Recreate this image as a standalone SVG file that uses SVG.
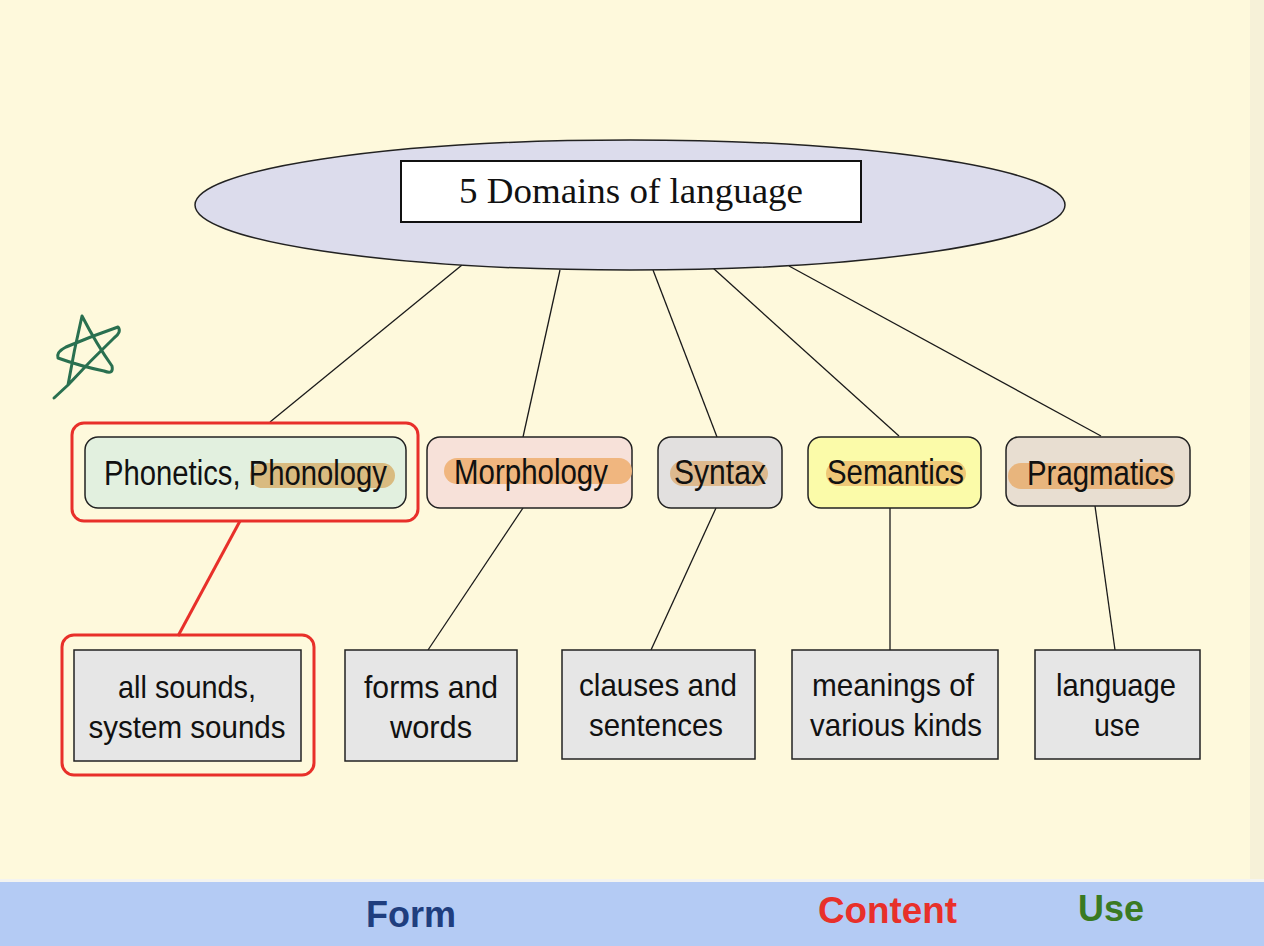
<svg xmlns="http://www.w3.org/2000/svg" width="1264" height="946" viewBox="0 0 1264 946">
<style>
.conn{stroke:#1a1a1a;stroke-width:1.3;fill:none}
.red{stroke:#E8302A;stroke-width:3;fill:none}
.mid{stroke:#222;stroke-width:1.5}
.hl{stroke:none}
.lbl{font-family:"Liberation Sans",Arial,sans-serif;font-size:35px;fill:#111}
.bot{fill:#E6E6E6;stroke:#222;stroke-width:1.5}
.btxt{font-family:"Liberation Sans",Arial,sans-serif;font-size:32px;fill:#111;text-anchor:middle}
.band{font-family:"Liberation Sans",Arial,sans-serif;font-weight:bold;font-size:36px}
</style>
<rect x="0" y="0" width="1264" height="946" fill="#FEF9DC"/>
<rect x="1250" y="0" width="14" height="880" fill="#F6F1D8"/>
<rect x="0" y="879" width="1264" height="3" fill="#F4F4F0"/>
<rect x="0" y="882" width="1264" height="64" fill="#B4CBF4"/>

<g id="connectors">
<line class="conn" x1="462" y1="265" x2="270" y2="422"/>
<line class="conn" x1="560" y1="270" x2="523" y2="437"/>
<line class="conn" x1="653" y1="270" x2="717" y2="437"/>
<line class="conn" x1="713" y1="268" x2="899" y2="436"/>
<line class="conn" x1="789" y1="266" x2="1101" y2="436"/>
<line x1="240" y1="521" x2="178" y2="636" stroke="#E8302A" stroke-width="3"/>
<line class="conn" x1="523" y1="508" x2="428" y2="650"/>
<line class="conn" x1="716" y1="508" x2="651" y2="650"/>
<line class="conn" x1="890" y1="508" x2="890" y2="650"/>
<line class="conn" x1="1095" y1="506" x2="1115" y2="650"/>
</g>

<g id="root">
<ellipse cx="630" cy="205" rx="435" ry="65" fill="#DCDCEC" stroke="#222" stroke-width="1.5"/>
<rect x="401" y="161" width="460" height="61" fill="#FFFFFF" stroke="#111" stroke-width="2"/>
<text x="631" y="203" text-anchor="middle" font-family="'Liberation Serif','Times New Roman',serif" font-size="36" textLength="344" lengthAdjust="spacingAndGlyphs" fill="#111">5 Domains of language</text>
</g>

<g id="phonetics">
<rect class="red" x="72" y="423" width="346" height="98" rx="12"/>
<rect class="mid" x="85" y="437" width="321" height="71" rx="13" fill="#E2F0DF"/>
<rect class="hl" x="250" y="463" width="145" height="25" rx="12.5" fill="#D9BB80"/>
<text class="lbl" x="104" y="485" textLength="283" lengthAdjust="spacingAndGlyphs">Phonetics, Phonology</text>
</g>

<g id="morphology">
<rect class="mid" x="427" y="437" width="205" height="71" rx="13" fill="#F7E1D9"/>
<rect class="hl" x="444" y="458" width="188" height="26" rx="13" fill="#F0B67F"/>
<text class="lbl" x="454" y="484" textLength="154" lengthAdjust="spacingAndGlyphs">Morphology</text>
</g>

<g id="syntax">
<rect class="mid" x="658" y="437" width="124" height="71" rx="13" fill="#E2E0DF"/>
<rect class="hl" x="670" y="461" width="98" height="25" rx="12.5" fill="#DDB98E"/>
<text class="lbl" x="674" y="484" textLength="92" lengthAdjust="spacingAndGlyphs">Syntax</text>
</g>

<g id="semantics">
<rect class="mid" x="808" y="437" width="173" height="71" rx="13" fill="#FBFBA9"/>
<rect class="hl" x="826" y="461" width="140" height="25" rx="12.5" fill="#EFC877"/>
<text class="lbl" x="827" y="484" textLength="137" lengthAdjust="spacingAndGlyphs">Semantics</text>
</g>

<g id="pragmatics">
<rect class="mid" x="1006" y="437" width="184" height="69" rx="13" fill="#E8DED1"/>
<rect class="hl" x="1008" y="463" width="167" height="26" rx="13" fill="#E8B57D"/>
<text class="lbl" x="1027" y="485" textLength="147" lengthAdjust="spacingAndGlyphs">Pragmatics</text>
</g>

<g id="sounds">
<rect class="red" x="62" y="635" width="252" height="140" rx="12"/>
<rect class="bot" x="74" y="650" width="227" height="111"/>
<text class="btxt" x="187" y="698" textLength="138" lengthAdjust="spacingAndGlyphs">all sounds,</text>
<text class="btxt" x="187" y="738" textLength="197" lengthAdjust="spacingAndGlyphs">system sounds</text>
</g>

<g id="forms">
<rect class="bot" x="345" y="650" width="172" height="111"/>
<text class="btxt" x="431" y="698" textLength="134" lengthAdjust="spacingAndGlyphs">forms and</text>
<text class="btxt" x="431" y="738" textLength="82" lengthAdjust="spacingAndGlyphs">words</text>
</g>

<g id="clauses">
<rect class="bot" x="562" y="650" width="193" height="109"/>
<text class="btxt" x="658" y="696" textLength="158" lengthAdjust="spacingAndGlyphs">clauses and</text>
<text class="btxt" x="656" y="736" textLength="134" lengthAdjust="spacingAndGlyphs">sentences</text>
</g>

<g id="meanings">
<rect class="bot" x="792" y="650" width="206" height="109"/>
<text class="btxt" x="893" y="696" textLength="162" lengthAdjust="spacingAndGlyphs">meanings of</text>
<text class="btxt" x="896" y="736" textLength="172" lengthAdjust="spacingAndGlyphs">various kinds</text>
</g>

<g id="use">
<rect class="bot" x="1035" y="650" width="165" height="109"/>
<text class="btxt" x="1116" y="696" textLength="120" lengthAdjust="spacingAndGlyphs">language</text>
<text class="btxt" x="1117" y="736" textLength="46" lengthAdjust="spacingAndGlyphs">use</text>
</g>

<g id="star">
<path d="M54,398 L68,385 Q74,350 82,316 Q97,345 112,366 Q114,375 104,371 Q80,366 58,358 Q56,352 66,347 Q92,336 118,327 Q122,332 114,338 Q90,361 68,385" fill="none" stroke="#2A7050" stroke-width="3" stroke-linecap="round" stroke-linejoin="round"/>
</g>

<g id="legend">
<text class="band" x="366" y="927" font-size="38" textLength="90" lengthAdjust="spacingAndGlyphs" fill="#1F3E7E">Form</text>
<text class="band" x="818" y="923" textLength="139" lengthAdjust="spacingAndGlyphs" fill="#E8302A">Content</text>
<text class="band" x="1078" y="921" textLength="66" lengthAdjust="spacingAndGlyphs" fill="#3A7A22">Use</text>
</g>
</svg>
